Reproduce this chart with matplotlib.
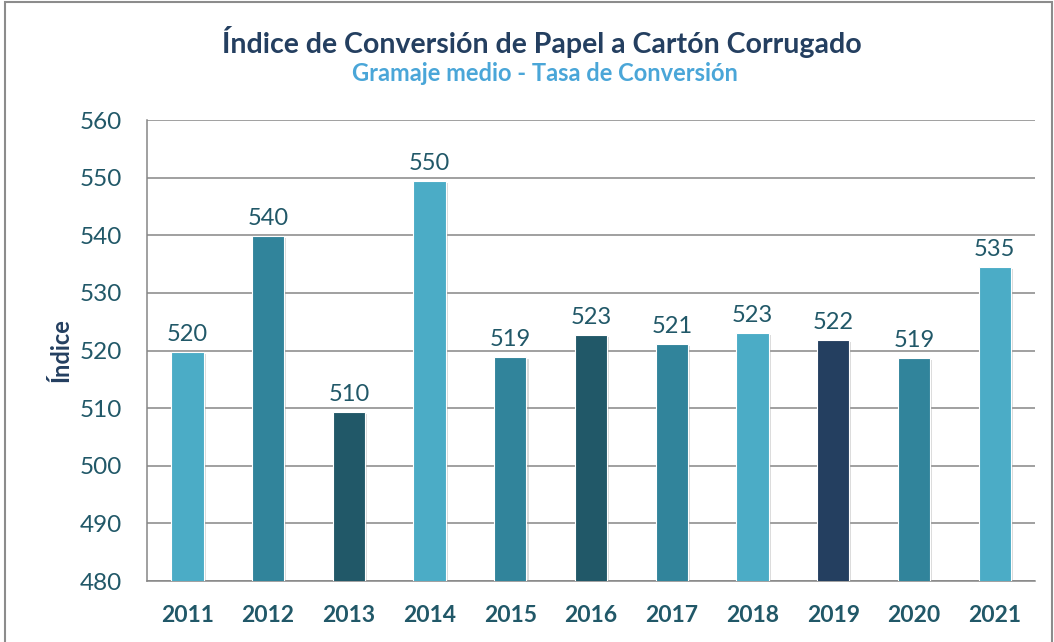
import matplotlib.pyplot as plt
import matplotlib.patheffects as pe
from matplotlib.patches import Rectangle

# datos del grafico
anios = ['2011', '2012', '2013', '2014', '2015', '2016', '2017', '2018', '2019', '2020', '2021']
indice = [519.8, 539.9, 509.4, 549.5, 518.9, 522.7, 521.1, 523.1, 521.8, 518.7, 534.5]
etiquetas = ['520', '540', '510', '550', '519', '523', '521', '523', '522', '519', '535']

claro = '#4BACC6'
medio = '#31849B'
oscuro = '#215868'
marino = '#243F60'
colores = [claro, medio, oscuro, claro, medio, oscuro, medio, claro, marino, medio, claro]

texto = '#215868'

fig = plt.figure(figsize=(10.54, 6.42), dpi=100)
ax = fig.add_axes([0.1395, 0.095, 0.8425, 0.718])

x = range(len(anios))
barras = ax.bar(x, indice, width=0.40, color=colores, edgecolor='white', linewidth=0.8, zorder=3)
for b in barras:
    b.set_path_effects([pe.SimplePatchShadow(offset=(1.5, -1.5), shadow_rgbFace='#999999', alpha=0.35),
                        pe.Normal()])

for xi, v, et in zip(x, indice, etiquetas):
    ax.annotate(et, (xi, v), xytext=(0, 5), textcoords='offset points', ha='center', va='bottom',
                fontsize=17, color=texto, family='Lato', zorder=4)

ax.set_ylim(480, 560)
ax.set_xlim(-0.5, len(anios) - 0.5)
ax.set_yticks(range(480, 561, 10))
ax.set_xticks(list(x))
ax.set_xticklabels(anios, fontsize=16.5, fontweight='bold', color=texto, family='Lato')
for t in ax.get_yticklabels():
    t.set_fontsize(17.5)
    t.set_color(texto)
    t.set_family('Lato')
ax.tick_params(axis='y', length=0, pad=18)
ax.tick_params(axis='x', length=0, pad=17)

ax.grid(axis='y', color='#868686', linewidth=1.1, zorder=0)
for s in ['top', 'right']:
    ax.spines[s].set_visible(False)
ax.spines['left'].set_color('#868686')
ax.spines['bottom'].set_color('#868686')
ax.spines['left'].set_linewidth(1.1)
ax.spines['bottom'].set_linewidth(1.1)

ax.set_ylabel('Índice', fontsize=17, fontweight='bold', color=marino, family='Lato', labelpad=5)

fig.text(0.514, 0.934, 'Índice de Conversión de Papel a Cartón Corrugado', ha='center', va='center',
         fontsize=20.5, color=marino, family='Lato', fontweight='bold')
fig.text(0.517, 0.886, 'Gramaje medio - Tasa de Conversión', ha='center', va='center',
         fontsize=17, color='#4AA6D8', family='Lato', fontweight='bold')

# marco
fig.patches.append(Rectangle((0.005, -0.01), 0.993, 1.007, transform=fig.transFigure,
                             fill=False, edgecolor='#8c8c8c', linewidth=1.5))

fig.savefig('out.png', dpi=100)
